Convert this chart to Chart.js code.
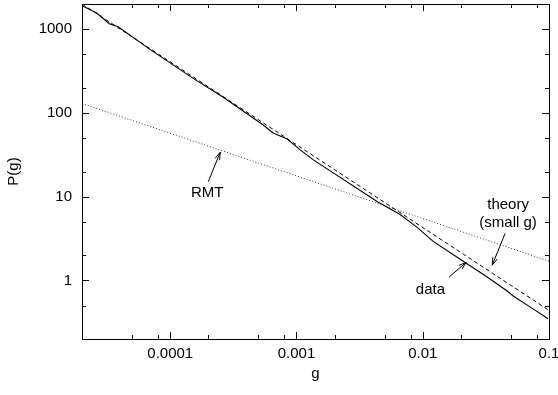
<!DOCTYPE html>
<html>
<head>
<meta charset="utf-8">
<script src="https://cdn.jsdelivr.net/npm/chart.js@4"></script>
<style>
  html, body { margin: 0; padding: 0; background: #fff; }
  #wrap { width: 558px; height: 395px; }
</style>
</head>
<body>
<div id="wrap"><canvas id="chart" width="558" height="395"></canvas></div>
<script>
// --- Daten ---
const dataG = [2.01e-5, 2.59e-5, 2.84e-5, 3.29e-5, 3.87e-5, 6.95e-5, 1.52e-4, 2.63e-4, 5.45e-4, 6.54e-4, 8.44e-4,
               1.07e-3, 1.36e-3, 4.35e-3, 6.62e-3, 9.03e-3, 1.21e-2, 1.98e-2, 3.24e-2, 4.66e-2, 5.20e-2, 7.48e-2, 9.31e-2, 0.0984];
const dataP = [1900, 1570, 1407, 1161, 1071, 571, 259, 154, 71.7, 57.6, 48.9,
               36.2, 27.5, 8.75, 6.13, 4.30, 2.93, 1.79, 1.10, 0.748, 0.653, 0.458, 0.368, 0.348];

const theoryG = [2e-5, 0.1];
const theoryP = [2000, 0.44];

const rmtG = [2e-5, 0.1];
const rmtP = [130, 1.7];

const xTicks = [1e-4, 1e-3, 1e-2, 1e-1];
const xTickLabels = ['0.0001', '0.001', '0.01', '0.1'];
const yTicks = [1, 10, 100, 1000];
const yTickLabels = ['1', '10', '100', '1000'];
const xMinorFactors = [2, 5, 8];
const yMinorFactors = [2, 5];

// Beschriftungen mit Pfeilen (Datenkoordinaten)
const notes = [
    { lines: ['RMT'], g: 1.96e-4, p: 11.2, from: [2.0e-4, 15.1], to: [2.49e-4, 34] },
    { lines: ['data'], g: 0.0115, p: 0.77, from: [0.0162, 1.10], to: [0.0221, 1.65] },
    { lines: ['theory', '(small g)'], g: 0.0474, p: 8.06, lineStep: 4.93 / 8.06, from: [0.0449, 3.65], to: [0.0355, 1.52] }
];

const FAMILY = '"Liberation Sans", Arial, sans-serif';
const FONT = '15px ' + FAMILY;

const pts = (xs, ys) => xs.map((x, i) => ({ x: x, y: ys[i] }));

// keine automatische Randpolsterung durch Beschriftungen
function noPad(s) {
    s.paddingLeft = 0; s.paddingRight = 0; s.paddingTop = 0; s.paddingBottom = 0;
}

// --- Plugin: Ticks nach innen, Spiegelung, Texte ---
const decoPlugin = {
    id: 'deco',
    afterDatasetsDraw(chart) {
        const ctx = chart.ctx;
        const xs = chart.scales.x, ys = chart.scales.y;
        const a = chart.chartArea;
        ctx.save();
        ctx.strokeStyle = '#000';
        ctx.lineWidth = 1;
        ctx.beginPath();
        // x Ticks
        for (let d = -5; d <= -1; d++) {
            const base = Math.pow(10, d);
            const list = [[base, 7]].concat(xMinorFactors.map(f => [base * f, 4]));
            list.forEach(([v, len]) => {
                if (v < xs.min * 1.0001 || v > xs.max * 1.0001) return;
                const px = Math.round(xs.getPixelForValue(v)) + 0.5;
                ctx.moveTo(px, a.bottom); ctx.lineTo(px, a.bottom - len);
                ctx.moveTo(px, a.top); ctx.lineTo(px, a.top + len);
            });
        }
        // y Ticks
        for (let d = -1; d <= 3; d++) {
            const base = Math.pow(10, d);
            const list = [[base, 7]].concat(yMinorFactors.map(f => [base * f, 4]));
            list.forEach(([v, len]) => {
                if (v < ys.min * 0.9999 || v > ys.max * 1.0001) return;
                const py = Math.round(ys.getPixelForValue(v)) + 0.5;
                ctx.moveTo(a.left, py); ctx.lineTo(a.left + len, py);
                ctx.moveTo(a.right, py); ctx.lineTo(a.right - len, py);
            });
        }
        ctx.stroke();

        // Rahmen
        ctx.strokeRect(Math.round(a.left) + 0.5, Math.round(a.top) + 0.5,
                       Math.round(a.right - a.left), Math.round(a.bottom - a.top));

        // Annotationen
        ctx.fillStyle = '#000';
        ctx.font = FONT;
        ctx.textAlign = 'center';
        ctx.textBaseline = 'middle';
        notes.forEach(n => {
            const tx = xs.getPixelForValue(n.g);
            const ty = ys.getPixelForValue(n.p);
            n.lines.forEach((t, i) => {
                const yy = i === 0 ? ty : ys.getPixelForValue(n.p * n.lineStep);
                ctx.fillText(t, tx, yy);
            });
            const x1 = xs.getPixelForValue(n.from[0]), y1 = ys.getPixelForValue(n.from[1]);
            const x2 = xs.getPixelForValue(n.to[0]), y2 = ys.getPixelForValue(n.to[1]);
            ctx.beginPath();
            ctx.moveTo(x1, y1); ctx.lineTo(x2, y2);
            ctx.stroke();
            const ang = Math.atan2(y2 - y1, x2 - x1);
            const hl = 8, hw = 0.3;
            ctx.beginPath();
            ctx.moveTo(x2, y2);
            ctx.lineTo(x2 - hl * Math.cos(ang - hw), y2 - hl * Math.sin(ang - hw));
            ctx.moveTo(x2, y2);
            ctx.lineTo(x2 - hl * Math.cos(ang + hw), y2 - hl * Math.sin(ang + hw));
            ctx.stroke();
        });
        ctx.restore();
    }
};

new Chart(document.getElementById('chart'), {
    type: 'line',
    data: {
        datasets: [
            {
                label: 'data',
                data: pts(dataG, dataP),
                borderColor: '#000',
                borderWidth: 1.1,
                pointRadius: 0,
                tension: 0
            },
            {
                label: 'theory (small g)',
                data: pts(theoryG, theoryP),
                borderColor: '#000',
                borderWidth: 1,
                borderDash: [4, 3],
                pointRadius: 0
            },
            {
                label: 'RMT',
                data: pts(rmtG, rmtP),
                borderColor: '#333',
                borderWidth: 1,
                borderDash: [1, 2],
                pointRadius: 0
            }
        ]
    },
    options: {
        responsive: false,
        animation: false,
        layout: { autoPadding: false, padding: { top: 4, right: 9, left: 0, bottom: 0 } },
        plugins: {
            legend: { display: false },
            tooltip: { enabled: false }
        },
        scales: {
            x: {
                type: 'logarithmic',
                min: 2e-5,
                max: 0.1,
                grid: { display: false, drawTicks: false },
                border: { display: false },
                afterBuildTicks: s => { s.ticks = xTicks.map(v => ({ value: v })); },
                afterFit: s => { s.height = 56; noPad(s); },
                ticks: {
                    color: '#000',
                    font: { family: FAMILY, size: 15 },
                    padding: 6,
                    maxRotation: 0,
                    autoSkip: false,
                    callback: (v) => xTickLabels[xTicks.findIndex(t => Math.abs(t - v) / t < 1e-6)]
                },
                title: {
                    display: true,
                    text: 'g',
                    color: '#000',
                    font: { family: FAMILY, size: 15 },
                    padding: { top: 4, bottom: 12 }
                }
            },
            y: {
                type: 'logarithmic',
                min: 0.2,
                max: 2000,
                grid: { display: false, drawTicks: false },
                border: { display: false },
                afterBuildTicks: s => { s.ticks = yTicks.map(v => ({ value: v })); },
                afterFit: s => { s.width = 82; noPad(s); },
                ticks: {
                    color: '#000',
                    font: { family: FAMILY, size: 15 },
                    padding: 10,
                    autoSkip: false,
                    callback: (v) => yTickLabels[yTicks.findIndex(t => Math.abs(t - v) / t < 1e-6)]
                },
                title: {
                    display: true,
                    text: 'P(g)',
                    color: '#000',
                    font: { family: FAMILY, size: 15 },
                    padding: { top: 5, bottom: 0 }
                }
            }
        }
    },
    plugins: [decoPlugin]
});
</script>
</body>
</html>
